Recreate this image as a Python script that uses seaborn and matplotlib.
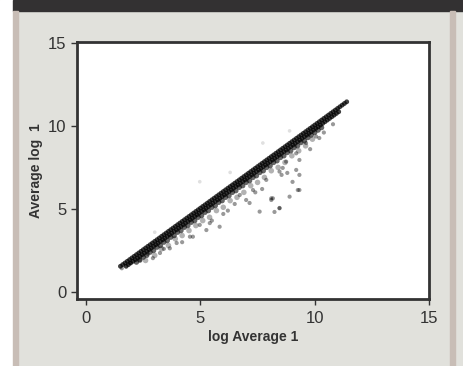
import numpy as np
import pandas as pd
import matplotlib
matplotlib.use("Agg")
import matplotlib.pyplot as plt
from matplotlib.patches import Rectangle
import seaborn as sns

# ---- data ----
# dense band, upper edge (y ~ x)
row_a_x = [1.5, 1.6, 1.7, 1.8, 1.9, 2.0, 2.1, 2.2, 2.3, 2.4, 2.5, 2.6, 2.7, 2.8, 2.9, 3.0, 3.1,
           3.2, 3.3, 3.4, 3.5, 3.6, 3.7, 3.8, 3.9, 4.0, 4.1, 4.2, 4.3, 4.4, 4.5, 4.6, 4.7, 4.8,
           4.9, 5.0, 5.1, 5.2, 5.3, 5.4, 5.5, 5.6, 5.7, 5.8, 5.9, 6.0, 6.1, 6.2, 6.3, 6.4, 6.5,
           6.6, 6.7, 6.8, 6.9, 7.0, 7.1, 7.2, 7.3, 7.4, 7.5, 7.6, 7.7, 7.8, 7.9, 8.0, 8.1, 8.2,
           8.3, 8.4, 8.5, 8.6, 8.7, 8.8, 8.9, 9.0, 9.1, 9.2, 9.3, 9.4, 9.5, 9.6, 9.7, 9.8, 9.9,
           10.0, 10.1, 10.2, 10.3, 10.4, 10.5, 10.6, 10.7, 10.8, 10.9, 11.0, 11.1, 11.2, 11.3, 11.4]
row_a_y = [1.55, 1.65, 1.75, 1.85, 1.95, 2.05, 2.15, 2.25, 2.35, 2.45, 2.55, 2.65, 2.75, 2.85,
           2.95, 3.05, 3.15, 3.25, 3.35, 3.45, 3.55, 3.65, 3.75, 3.85, 3.95, 4.05, 4.15, 4.25,
           4.35, 4.45, 4.55, 4.65, 4.75, 4.85, 4.95, 5.05, 5.15, 5.25, 5.35, 5.45, 5.55, 5.65,
           5.75, 5.85, 5.95, 6.05, 6.15, 6.25, 6.35, 6.45, 6.55, 6.65, 6.75, 6.85, 6.95, 7.05,
           7.15, 7.25, 7.35, 7.45, 7.55, 7.65, 7.75, 7.85, 7.95, 8.05, 8.15, 8.25, 8.35, 8.45,
           8.55, 8.65, 8.75, 8.85, 8.95, 9.05, 9.15, 9.25, 9.35, 9.45, 9.55, 9.65, 9.75, 9.85,
           9.95, 10.05, 10.15, 10.25, 10.35, 10.45, 10.55, 10.65, 10.75, 10.85, 10.95, 11.05,
           11.15, 11.25, 11.35, 11.45]
# dense band, middle
row_b_x = [1.75, 1.85, 1.95, 2.05, 2.15, 2.25, 2.35, 2.45, 2.55, 2.65, 2.75, 2.85, 2.95, 3.05,
           3.15, 3.25, 3.35, 3.45, 3.55, 3.65, 3.75, 3.85, 3.95, 4.05, 4.15, 4.25, 4.35, 4.45,
           4.55, 4.65, 4.75, 4.85, 4.95, 5.05, 5.15, 5.25, 5.35, 5.45, 5.55, 5.65, 5.75, 5.85,
           5.95, 6.05, 6.15, 6.25, 6.35, 6.45, 6.55, 6.65, 6.75, 6.85, 6.95, 7.05, 7.15, 7.25,
           7.35, 7.45, 7.55, 7.65, 7.75, 7.85, 7.95, 8.05, 8.15, 8.25, 8.35, 8.45, 8.55, 8.65,
           8.75, 8.85, 8.95, 9.05, 9.15, 9.25, 9.35, 9.45, 9.55, 9.65, 9.75, 9.85, 9.95, 10.05,
           10.15, 10.25, 10.35, 10.45, 10.55, 10.65, 10.75, 10.85, 10.95, 11.05]
row_b_y = [1.55, 1.65, 1.75, 1.85, 1.95, 2.05, 2.15, 2.25, 2.35, 2.45, 2.55, 2.65, 2.75, 2.85,
           2.95, 3.05, 3.15, 3.25, 3.35, 3.45, 3.55, 3.65, 3.75, 3.85, 3.95, 4.05, 4.15, 4.25,
           4.35, 4.45, 4.55, 4.65, 4.75, 4.85, 4.95, 5.05, 5.15, 5.25, 5.35, 5.45, 5.55, 5.65,
           5.75, 5.85, 5.95, 6.05, 6.15, 6.25, 6.35, 6.45, 6.55, 6.65, 6.75, 6.85, 6.95, 7.05,
           7.15, 7.25, 7.35, 7.45, 7.55, 7.65, 7.75, 7.85, 7.95, 8.05, 8.15, 8.25, 8.35, 8.45,
           8.55, 8.65, 8.75, 8.85, 8.95, 9.05, 9.15, 9.25, 9.35, 9.45, 9.55, 9.65, 9.75, 9.85,
           9.95, 10.05, 10.15, 10.25, 10.35, 10.45, 10.55, 10.65, 10.75, 10.85]
# dense band, lower side
row_c_x = [2.2, 2.35, 2.5, 2.65, 2.8, 2.95, 3.1, 3.25, 3.4, 3.55, 3.7, 3.85, 4.0, 4.15, 4.3,
           4.45, 4.6, 4.75, 4.9, 5.05, 5.2, 5.35, 5.5, 5.65, 5.8, 5.95, 6.1, 6.25, 6.4, 6.55,
           6.7, 6.85, 7.0, 7.15, 7.3, 7.45, 7.6, 7.75, 7.9, 8.05, 8.2, 8.35, 8.5, 8.65, 8.8,
           8.95, 9.1, 9.25, 9.4, 9.55, 9.7, 9.85, 10.0, 10.15, 10.3]
row_c_y = [1.8, 1.92, 2.1, 2.21, 2.4, 2.5, 2.7, 2.8, 3.0, 3.1, 3.3, 3.4, 3.6, 3.7,
           3.9, 4.0, 4.2, 4.3, 4.5, 4.6, 4.8, 4.9, 5.1, 5.2, 5.4, 5.5, 5.7, 5.8,
           6.0, 6.1, 6.3, 6.4, 6.6, 6.7, 6.9, 7.0, 7.2, 7.3, 7.5, 7.6, 7.8, 7.9,
           8.1, 8.2, 8.4, 8.5, 8.7, 8.8, 9.0, 9.1, 9.3, 9.45, 9.6, 9.75, 9.9]
# spotty fringe under the band
row_d_x = [2.6, 3.0, 3.3, 3.6, 3.9, 4.2, 4.5, 4.8, 5.1, 5.4, 5.7, 6.0, 6.3, 6.6, 6.9, 7.2, 7.5,
           7.8, 8.1, 8.4, 8.7, 9.0, 9.3, 9.6, 9.9]
row_d_y = [1.9, 2.2, 2.6, 2.8, 3.2, 3.4, 3.7, 4.0, 4.3, 4.5, 4.9, 5.1, 5.5, 5.7, 6.0, 6.4, 6.6,
           6.9, 7.3, 7.5, 7.8, 8.2, 8.5, 8.8, 9.2]
# scattered outliers
out_x = [3.66, 3.23, 2.92, 2.35, 4.97, 5.26, 5.41, 4.54, 3.96, 1.56, 1.92, 5.84, 4.67, 7.59,
         8.46, 9.33, 8.17, 7.0, 9.19, 9.33, 8.75, 10.06, 10.2, 9.62, 9.19, 9.26, 8.46, 8.1,
         8.46, 7.3, 6.72, 8.8, 7.88, 9.33, 8.6, 8.55, 8.9, 8.1, 7.15, 8.24, 9.03, 6.2, 5.5,
         6.5, 7.7, 4.2, 3.4, 2.7, 10.4, 10.8, 9.8, 7.4, 6.0]
out_y = [2.63, 2.35, 2.04, 1.93, 4.04, 3.73, 4.15, 3.33, 2.95, 1.43, 1.74, 3.93, 3.33, 4.84,
         5.04, 6.14, 5.64, 5.54, 7.35, 7.95, 7.85, 9.36, 9.27, 8.97, 8.35, 6.14, 7.25, 5.64,
         5.06, 6.14, 5.84, 7.17, 6.75, 7.05, 7.47, 7.05, 5.74, 5.54, 5.36, 4.82, 6.63, 4.9,
         4.3, 5.3, 6.2, 3.0, 2.6, 2.3, 9.6, 10.1, 8.6, 6.0, 4.7]
# faint points above the band
above_x = [7.73, 4.97, 6.3, 8.9, 3.0]
above_y = [8.97, 6.64, 7.2, 9.7, 3.6]

x_ticks = [0, 5, 10, 15]
y_ticks = [0, 5, 10, 15]

df_core = pd.DataFrame({"x": row_a_x + row_b_x, "y": row_a_y + row_b_y})
df_lower = pd.DataFrame({"x": row_c_x, "y": row_c_y})
df_fringe = pd.DataFrame({"x": row_d_x, "y": row_d_y})
df_out = pd.DataFrame({"x": out_x, "y": out_y})
df_above = pd.DataFrame({"x": above_x, "y": above_y})

sns.set_theme(style="white")
plt.rcParams["font.family"] = ["Liberation Sans", "DejaVu Sans"]

BG = "#e1e1dc"
DARK = "#333333"

fig = plt.figure(figsize=(4.64, 3.66), dpi=100, facecolor=BG)
W, H = 464, 366
# white left margin, header bar, side stripes
fig.patches.append(Rectangle((0, 0), 13 / W, 1, transform=fig.transFigure, color="white", zorder=0))
fig.patches.append(Rectangle((13 / W, 1 - 11 / H), 1, 11 / H, transform=fig.transFigure, color="#333132", zorder=1))
fig.patches.append(Rectangle((13 / W, 0), 5 / W, 1 - 11 / H, transform=fig.transFigure, color="#c8bdb6", zorder=1))
fig.patches.append(Rectangle((450 / W, 0), 5 / W, 1 - 11 / H, transform=fig.transFigure, color="#c8bdb6", zorder=1))

ax = fig.add_axes([77 / W, 1 - 299 / H, (429 - 77) / W, (299 - 42) / H])
ax.set_facecolor("white")

sns.scatterplot(data=df_fringe, x="x", y="y", ax=ax, s=16, color="black", alpha=0.3,
                edgecolor="none", linewidth=0)
sns.scatterplot(data=df_lower, x="x", y="y", ax=ax, s=15, color="black", alpha=0.6,
                edgecolor="none", linewidth=0)
sns.scatterplot(data=df_core, x="x", y="y", ax=ax, s=12, color="black", alpha=0.75,
                edgecolor="none", linewidth=0)
sns.scatterplot(data=df_out, x="x", y="y", ax=ax, s=9, color="black", alpha=0.4,
                edgecolor="none", linewidth=0)
sns.scatterplot(data=df_above, x="x", y="y", ax=ax, s=7, color="black", alpha=0.12,
                edgecolor="none", linewidth=0)

ax.set_xlim(-0.4, 15)
ax.set_ylim(-0.42, 15.05)
ax.set_xticks(x_ticks)
ax.set_yticks(y_ticks)
ax.tick_params(axis="both", direction="out", length=4.5, width=1, color=DARK,
               labelsize=12, labelcolor=DARK, bottom=True, left=True)
ax.tick_params(axis="x", pad=4)
ax.tick_params(axis="y", pad=3)
for sp in ax.spines.values():
    sp.set_visible(True)
    sp.set_color(DARK)
    sp.set_linewidth(2)

ax.set_xlabel("log Average 1", fontsize=10, fontweight="bold", color=DARK, labelpad=3)
ax.set_ylabel("Average log  1", fontsize=10, fontweight="bold", color=DARK, labelpad=4)

fig.savefig("out.png", dpi=100, facecolor=BG)
